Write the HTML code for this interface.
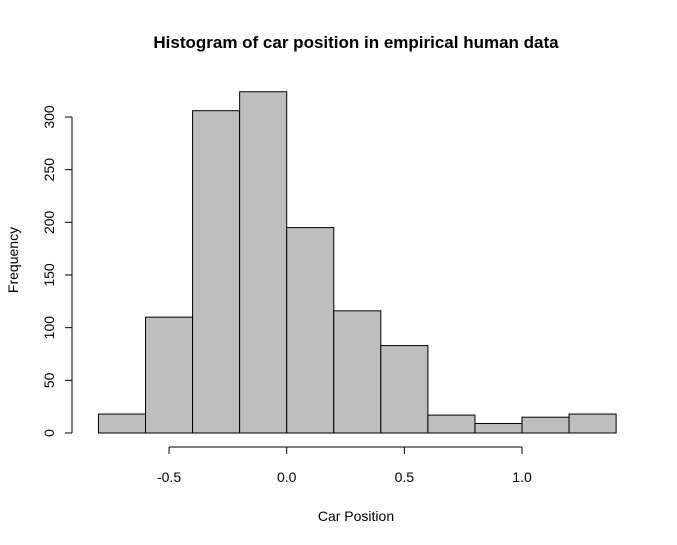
<!DOCTYPE html>
<html><head><meta charset="utf-8"><style>
body{margin:0;background:#fff}
svg{display:block;font-family:"Liberation Sans",Arial,sans-serif}
</style></head><body>
<svg id="c" width="677" height="545" viewBox="0 0 677 545">
<text x="356" y="48" text-anchor="middle" font-size="17" font-weight="bold">Histogram of car position in empirical human data</text>
<text x="356" y="521" text-anchor="middle" font-size="14">Car Position</text>
<text transform="translate(18,260) rotate(-90)" text-anchor="middle" font-size="14">Frequency</text>
<g id="bars"></g><g id="xaxis"></g><g id="yaxis"></g>
</svg>
<script>
const binStarts=[-0.8,-0.6,-0.4,-0.2,0.0,0.2,0.4,0.6,0.8,1.0,1.2];
const counts=[18,110,306,324,195,116,83,17,9,15,18];
const binWidth=0.2;
const xTicks=[-0.5,0.0,0.5,1.0];
const xTickLabels=["-0.5","0.0","0.5","1.0"];
const yTicks=[0,50,100,150,200,250,300];
const NS="http://www.w3.org/2000/svg";
function X(v){return 286.7+v*235.3;}
function Y(v){return 433-v*1.0533;}
function mk(t,a,p){const e=document.createElementNS(NS,t);for(const k in a)e.setAttribute(k,a[k]);p.appendChild(e);return e;}
const bars=document.getElementById('bars');
binStarts.forEach((s,i)=>{
 const r=mk('rect',{x:X(s),y:Y(counts[i]),width:X(s+binWidth)-X(s),height:Y(0)-Y(counts[i]),fill:'#bebebe',stroke:'#000','stroke-width':1},bars);
 
 
});
const xa=document.getElementById('xaxis');
const xl=mk('line',{x1:X(xTicks[0]),x2:X(xTicks[xTicks.length-1]),y1:447,y2:447,stroke:'#000'},xa);


xTicks.forEach((t,i)=>{
 mk('line',{x1:X(t),x2:X(t),y1:447,y2:454,stroke:'#000'},xa);
 const tx=mk('text',{x:X(t),y:482,'text-anchor':'middle','font-size':14},xa);
 tx.textContent=xTickLabels[i];
 
 
});
const ya=document.getElementById('yaxis');
const yl=mk('line',{x1:72,x2:72,y1:Y(yTicks[0]),y2:Y(yTicks[yTicks.length-1]),stroke:'#000'},ya);


yTicks.forEach(t=>{
 mk('line',{x1:65,x2:72,y1:Y(t),y2:Y(t),stroke:'#000'},ya);
 const tx=mk('text',{transform:`translate(54,${Y(t)}) rotate(-90)`,'text-anchor':'middle','font-size':14},ya);
 tx.textContent=String(t);
 
 
});
</script>
</body></html>
